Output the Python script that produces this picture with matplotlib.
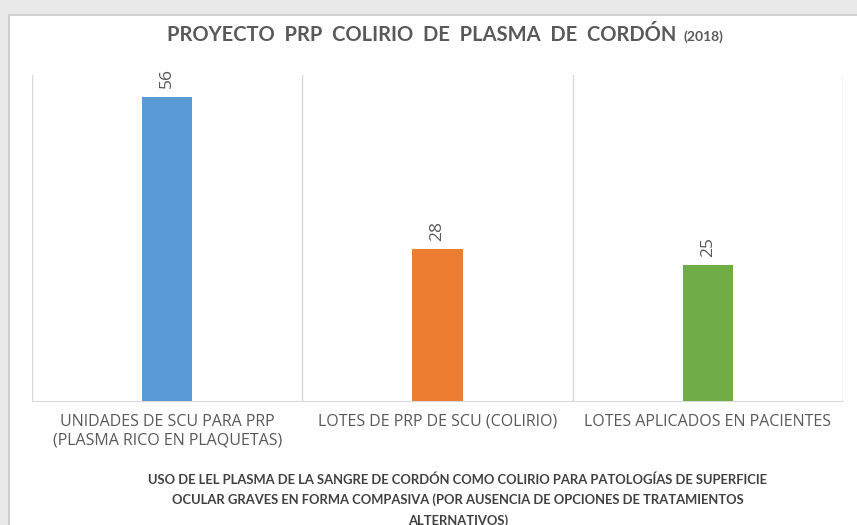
import matplotlib
matplotlib.use("Agg")
import matplotlib.pyplot as plt
from matplotlib.patches import Rectangle

categories = ["UNIDADES DE SCU PARA PRP\n(PLASMA RICO EN PLAQUETAS)",
              "LOTES DE PRP DE SCU (COLIRIO)",
              "LOTES APLICADOS EN PACIENTES"]
values = [56, 28, 25]
colors = ["#5b9bd5", "#ed7d31", "#70ad47"]
title_main = "PROYECTO  PRP  COLIRIO  DE  PLASMA  DE  CORDÓN"
title_year = "(2018)"
caption = ("USO DE LEL PLASMA DE LA SANGRE DE CORDÓN COMO COLIRIO PARA PATOLOGÍAS DE SUPERFICIE\n"
           "OCULAR GRAVES EN FORMA COMPASIVA (POR AUSENCIA DE OPCIONES DE TRATAMIENTOS\n"
           "ALTERNATIVOS)")

W, H = 857, 525
fig = plt.figure(figsize=(W/100, H/100), dpi=100)
fig.patch.set_facecolor("#e9e9e9")
# white card
fig.patches.append(Rectangle((8/W, 0), 1, (H-14)/H, transform=fig.transFigure,
                             facecolor="#cfcfcf", edgecolor="none", zorder=-2))
fig.patches.append(Rectangle((10/W, 0), 1, (H-16)/H, transform=fig.transFigure,
                             facecolor="white", edgecolor="none", zorder=-1))

gray = "#595959"
ax = fig.add_axes([32/W, (H-401)/H, (843-32)/W, (401-75)/H])
ax.set_facecolor("none")
x = list(range(len(values)))
bars = ax.bar(x, values, width=0.185, color=colors, zorder=3)
ax.set_xlim(-0.5, 2.5)
ax.set_ylim(0, 60)
for s in ["top", "right", "left"]:
    ax.spines[s].set_visible(False)
ax.spines["bottom"].set_color("#d9d9d9")
ax.set_yticks([])
for b in [-0.5, 0.5, 1.5, 2.5]:
    ax.axvline(b, color="#d9d9d9", lw=1, zorder=1)
ax.set_xticks(x)
ax.set_xticklabels(categories, fontsize=11.5, color=gray, family="Open Sans",
                   linespacing=1.25)
ax.tick_params(axis="x", length=0, pad=9)
for xi, v in zip(x, values):
    ax.annotate(str(v), (xi, v), xytext=(0, 6), textcoords="offset points",
                rotation=90, ha="center", va="bottom", fontsize=12.5,
                color=gray, family="Open Sans")

t = fig.text(676/W, 1 - 35/H, title_main, ha="right", va="center", fontsize=14.5,
             fontweight="bold", color=gray, family="Lato")
fig.text(683/W, 1 - 37/H, title_year, ha="left", va="center", fontsize=10,
         fontweight="bold", color=gray, family="Lato")

fig.text(458/W, 1 - 473/H, caption, ha="center", va="top", fontsize=9.4,
         fontweight="bold", color="#404040", family="Lato",
         linespacing=1.75)

fig.savefig("out.png", dpi=100, facecolor=fig.get_facecolor())
